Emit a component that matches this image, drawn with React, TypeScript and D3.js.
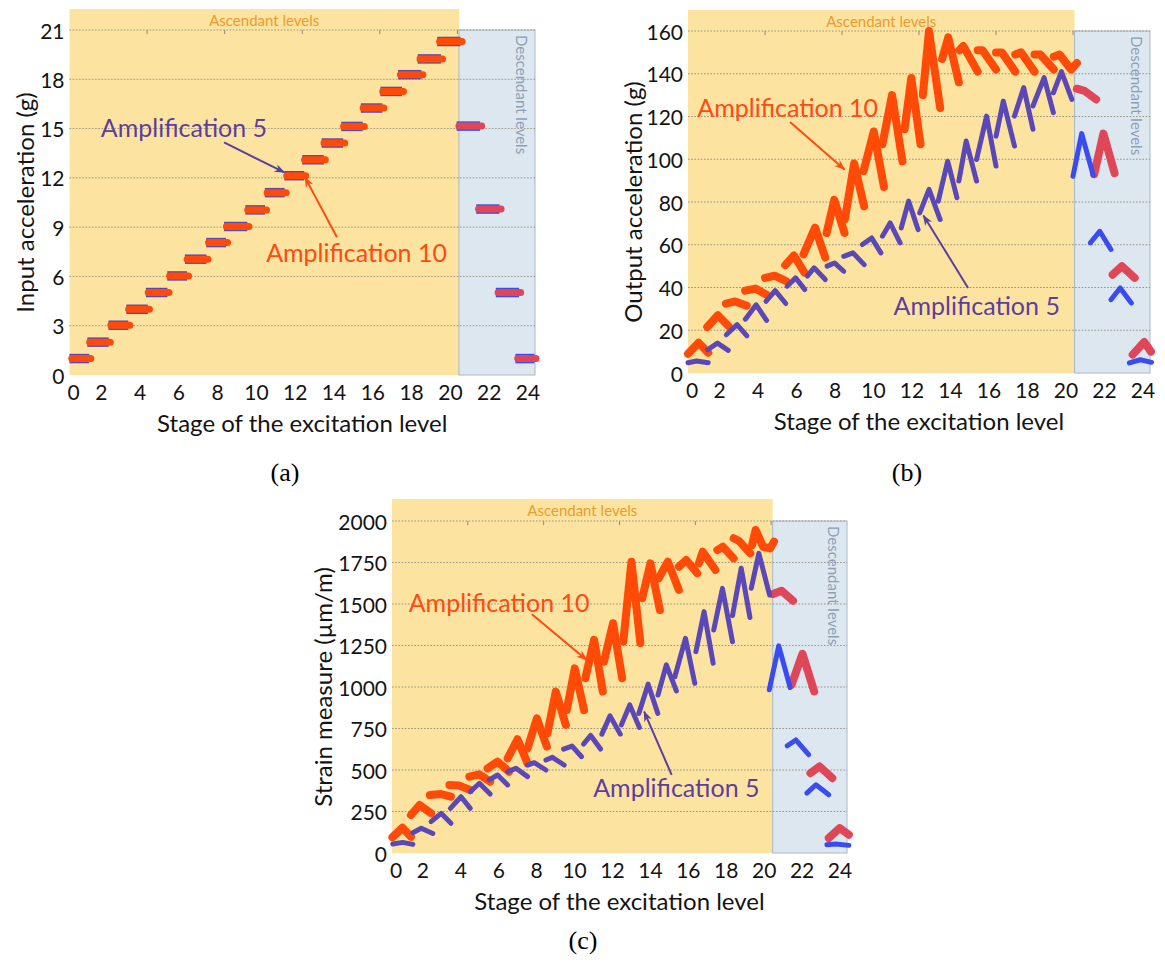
import React from "react";
import * as d3 from "d3";

type Pt = [number, number];

// ---------- shared axis data ----------
const stageTicks = [0, 2, 4, 6, 8, 10, 12, 14, 16, 18, 20, 22, 24];
const topTicks = [4, 8, 12, 16, 20];
const ascendEnd = 20.08;
const stageMax = 24;
const firstDescending = 20; // index of stage 21

// ---------- panel (a): input acceleration ----------
const inputTicks = [0, 3, 6, 9, 12, 15, 18, 21];
const inputLevels = [1.0, 2.0, 3.03, 4.0, 5.02, 6.03, 7.05, 8.06, 9.04, 10.05, 11.1, 12.13, 13.1, 14.12, 15.13, 16.25, 17.26, 18.28, 19.24, 20.3, 15.15, 10.1, 5.02, 1.0];
const inputStart = [0.0, 0.92, 2.01, 2.93, 3.94, 5.04, 5.95, 7.05, 7.97, 9.07, 10.07, 11.08, 12.0, 13.0, 14.01, 15.02, 16.03, 16.94, 17.95, 18.96, 19.96, 20.97, 21.98, 22.99];
const inputEnd = [1.1, 2.1, 3.11, 4.12, 5.13, 6.14, 7.14, 8.15, 9.25, 10.16, 11.17, 12.18, 13.19, 14.19, 15.2, 16.21, 17.22, 18.22, 19.23, 20.24, 21.25, 22.25, 23.26, 24.05];

// ---------- panel (b): output acceleration ----------
const outputTicks = [0, 20, 40, 60, 80, 100, 120, 140, 160];
const outputAmp10: Pt[][] = [
  [[0, 9], [0.55, 14.2], [1.05, 9.5]],
  [[1.0, 21.5], [1.55, 27], [2.1, 22]],
  [[1.97, 32.5], [2.45, 33.5], [3.05, 31.5]],
  [[2.97, 38.5], [3.5, 39.5], [4.1, 36.5]],
  [[4.0, 44.5], [4.5, 45.5], [5.1, 43]],
  [[5.05, 50.5], [5.5, 55], [6.05, 47]],
  [[6.0, 55.5], [6.6, 68], [7.13, 54]],
  [[7.2, 65.5], [7.6, 81], [8.13, 65.5]],
  [[8.15, 72], [8.63, 98], [9.15, 78]],
  [[9.12, 94.5], [9.65, 113], [10.18, 87]],
  [[10.1, 107], [10.6, 130], [11.14, 99]],
  [[11.25, 114], [11.6, 138], [12.08, 107]],
  [[12.2, 130], [12.52, 160], [13.1, 124]],
  [[13.2, 147], [13.52, 157], [14.07, 136]],
  [[14.1, 151], [14.3, 153], [15.05, 141]],
  [[15.05, 151], [15.3, 151], [16.0, 142]],
  [[16.0, 150], [16.3, 150], [17.0, 141]],
  [[17.0, 149], [17.3, 150], [18.0, 141]],
  [[18.0, 149], [18.3, 149], [19.0, 142]],
  [[19.0, 148], [19.3, 149], [19.9, 142], [20.2, 145]],
  [[20.2, 133], [20.6, 132], [21.2, 128]],
  [[21.1, 93], [21.58, 112], [22.16, 93.5]],
  [[22.06, 46], [22.54, 50], [23.2, 44.5]],
  [[23.1, 8.6], [23.7, 14.5], [24.05, 10]],
];
const outputAmp5: Pt[][] = [
  [[0, 4.8], [0.45, 5.6], [1.05, 4.8]],
  [[1.02, 10.9], [1.53, 14], [2.09, 10.6]],
  [[1.99, 17.9], [2.55, 22.6], [3.06, 17.4]],
  [[2.98, 25.2], [3.54, 31.9], [4.08, 24.6]],
  [[4.05, 33.5], [4.53, 38.5], [5.08, 32.5]],
  [[5.15, 40.6], [5.59, 44.5], [6.07, 39]],
  [[6.2, 45.3], [6.55, 49.2], [7.13, 43.7]],
  [[7.23, 50], [7.61, 51.5], [8.09, 47.6]],
  [[8.09, 54.6], [8.57, 56.2], [9.15, 50.7]],
  [[9.06, 60.1], [9.54, 63.2], [10.02, 56.2]],
  [[10.1, 64], [10.5, 70.2], [11.02, 60.9]],
  [[11.08, 67.9], [11.46, 80.4], [11.95, 67.1]],
  [[12.04, 74.9], [12.52, 85.9], [13.1, 71.8]],
  [[13.0, 80.4], [13.49, 99.1], [13.97, 82]],
  [[14.07, 89.8], [14.45, 108.5], [14.99, 89.8]],
  [[14.99, 99.9], [15.51, 120.2], [16.0, 96.8]],
  [[16.0, 110.8], [16.38, 127.2], [16.96, 106.2]],
  [[16.96, 120.2], [17.44, 133.5], [17.92, 114]],
  [[17.92, 124.9], [18.5, 138.2], [18.98, 121.8]],
  [[18.98, 131.1], [19.4, 141], [19.94, 128]],
  [[20.0, 92], [20.45, 112], [21.05, 92.5]],
  [[20.9, 60.9], [21.39, 66.3], [21.97, 57.8]],
  [[21.97, 34.3], [22.45, 39.8], [23.03, 32.8]],
  [[22.93, 4.7], [23.5, 6.2], [24.08, 5]],
];

// ---------- panel (c): strain ----------
const strainTicks = [0, 250, 500, 750, 1000, 1250, 1500, 1750, 2000];
const strainAmp10: Pt[][] = [
  [[0.02, 95], [0.55, 152], [1.0, 98]],
  [[1.0, 229], [1.45, 289], [2.06, 239]],
  [[2.0, 349], [2.59, 355], [3.11, 339]],
  [[3.03, 410], [3.55, 406], [4.13, 380]],
  [[4.08, 460], [4.6, 474], [5.18, 430]],
  [[5.04, 510], [5.57, 550], [6.18, 490]],
  [[6.1, 570], [6.62, 685], [7.15, 540]],
  [[7.15, 630], [7.64, 811], [8.17, 641]],
  [[8.2, 721], [8.64, 972], [9.17, 771]],
  [[9.22, 861], [9.64, 1112], [10.13, 861]],
  [[10.2, 1053], [10.66, 1284], [11.12, 973]],
  [[11.18, 1153], [11.66, 1384], [12.14, 1053]],
  [[12.2, 1274], [12.63, 1755], [13.1, 1264]],
  [[13.2, 1535], [13.63, 1745], [14.13, 1464]],
  [[14.07, 1655], [14.55, 1755], [15.13, 1585]],
  [[15.13, 1725], [15.52, 1765], [16.1, 1685]],
  [[16.19, 1745], [16.39, 1815], [17.06, 1705]],
  [[17.16, 1825], [17.45, 1845], [18.02, 1775]],
  [[18.02, 1896], [18.3, 1880], [18.9, 1805]],
  [[18.99, 1855], [19.18, 1946], [19.57, 1845], [19.95, 1835], [20.15, 1876]],
  [[20.1, 1560], [20.55, 1580], [21.15, 1520]],
  [[21.07, 1013], [21.65, 1200], [22.27, 973]],
  [[22.07, 481], [22.55, 522], [23.23, 451]],
  [[23.04, 90], [23.61, 150], [24.1, 110]],
];
const strainAmp5: Pt[][] = [
  [[0.04, 54], [0.57, 64], [1.1, 52]],
  [[1.1, 122], [1.54, 149], [2.15, 118]],
  [[2.06, 189], [2.59, 239], [3.11, 179]],
  [[3.08, 269], [3.64, 339], [4.13, 269]],
  [[4.13, 369], [4.61, 420], [5.18, 355]],
  [[5.13, 440], [5.57, 470], [6.1, 410]],
  [[6.1, 490], [6.54, 510], [7.15, 460]],
  [[7.15, 530], [7.5, 544], [8.12, 500]],
  [[8.12, 560], [8.46, 576], [9.08, 530]],
  [[9.05, 626], [9.5, 644], [10.0, 580]],
  [[10.1, 656], [10.48, 708], [11.0, 626]],
  [[11.07, 716], [11.5, 826], [12.04, 716]],
  [[12.1, 772], [12.54, 892], [13.05, 756]],
  [[13.02, 841], [13.51, 1017], [14.02, 841]],
  [[14.03, 952], [14.47, 1133], [15.0, 977]],
  [[14.92, 1062], [15.48, 1293], [15.97, 1022]],
  [[16.03, 1213], [16.46, 1454], [16.94, 1143]],
  [[16.97, 1343], [17.43, 1594], [17.96, 1273]],
  [[17.96, 1430], [18.42, 1715], [18.88, 1419]],
  [[18.95, 1595], [19.35, 1805], [19.85, 1584], [19.92, 1554]],
  [[19.9, 983], [20.4, 1248], [21.0, 997]],
  [[20.85, 646], [21.3, 681], [21.98, 592]],
  [[21.88, 361], [22.36, 411], [23.04, 351]],
  [[22.94, 50], [23.42, 54], [24.1, 46]],
];

// ---------- annotations (data coords) ----------
type Note = { text: string; tx: number; ty: number; from: Pt; to: Pt; kind: "a5" | "a10" };
const inputNotes: Note[] = [
  { text: "Amplification 5", tx: 5.9, ty: 15.1, from: [7.97, 14.16], to: [11.08, 12.33], kind: "a5" },
  { text: "Amplification 10", tx: 14.8, ty: 7.5, from: [13.79, 8.38], to: [12.14, 12.03], kind: "a10" },
];
const outputNotes: Note[] = [
  { text: "Amplification 10", tx: 5.18, ty: 124.6, from: [5.3, 117.4], to: [8.13, 95.2], kind: "a10" },
  { text: "Amplification 5", tx: 15.0, ty: 32, from: [14.55, 39.8], to: [12.23, 73.7], kind: "a5" },
];
const strainNotes: Note[] = [
  { text: "Amplification 10", tx: 5.65, ty: 1514, from: [7.38, 1438], to: [10.27, 1163], kind: "a10" },
  { text: "Amplification 5", tx: 15.0, ty: 397, from: [14.75, 471], to: [13.3, 852], kind: "a5" },
];

// ---------- styles ----------
const FONT = "Lato, 'Open Sans', sans-serif";
const C = {
  yellow: "#FCE4A0",
  blueBg: "#DDE7F0",
  blueEdge: "#A8B6C4",
  grid: "#9A9686",
  red: "#FF4A08",
  redDesc: "#DF4658",
  purple: "#5A48B8",
  blue: "#3A4CF0",
  noteA5: "#5B3F9E",
  noteA10: "#FF4A12",
  ascText: "#EE9A2E",
  descText: "#8E9FB4",
  text: "#141414",
};

type Spec = {
  id: string;
  left: number; right: number; top: number; bottom: number; yellowTop: number;
  yMax: number; yTicks: number[]; yTitle: string; yTitleX: number;
  amp10: Pt[][]; amp5: Pt[][]; bars: boolean;
  notes: Note[];
  label: string; labelX: number; labelY: number;
};

const inputBars10: Pt[][] = inputLevels.map((v, i) => [[inputStart[i] + 0.12, v], [inputEnd[i], v]]);
const inputBars5: Pt[][] = inputLevels.map((v, i) => [[inputStart[i], v], [inputEnd[i] - 0.08, v]]);

const specs: Spec[] = [
  {
    id: "a", left: 69.5, right: 535, top: 30, bottom: 375, yellowTop: 9,
    yMax: 21, yTicks: inputTicks, yTitle: "Input acceleration (g)", yTitleX: 24,
    amp10: inputBars10, amp5: inputBars5, bars: true, notes: inputNotes,
    label: "(a)", labelX: 285, labelY: 472,
  },
  {
    id: "b", left: 688, right: 1150, top: 31, bottom: 373, yellowTop: 10,
    yMax: 160, yTicks: outputTicks, yTitle: "Output acceleration (g)", yTitleX: 632,
    amp10: outputAmp10, amp5: outputAmp5, bars: false, notes: outputNotes,
    label: "(b)", labelX: 907, labelY: 472,
  },
  {
    id: "c", left: 392, right: 847, top: 521, bottom: 853, yellowTop: 499,
    yMax: 2000, yTicks: strainTicks, yTitle: "Strain measure (\u00b5m/m)", yTitleX: 322,
    amp10: strainAmp10, amp5: strainAmp5, bars: false, notes: strainNotes,
    label: "(c)", labelX: 583, labelY: 940,
  },
];

function Panel({ s }: { s: Spec }) {
  const xs = d3.scaleLinear().domain([0, stageMax]).range([s.left, s.right]);
  const ys = d3.scaleLinear().domain([0, s.yMax]).range([s.bottom, s.top]);
  const line = d3.line<Pt>().x((d) => xs(d[0])).y((d) => ys(d[1]));
  const midY = (s.top + s.bottom) / 2;

  const seg10 = s.amp10.map((seg, i) => (
    <path key={"r" + i} d={line(seg) || ""} fill="none"
      stroke={i >= firstDescending ? C.redDesc : C.red}
      strokeWidth={s.bars ? 7 : 8} strokeLinecap="round" strokeLinejoin="round" />
  ));
  const seg5 = s.amp5.map((seg, i) => (
    <path key={"b" + i} d={line(seg) || ""} fill="none"
      stroke={i >= firstDescending ? C.blue : C.purple}
      strokeWidth={s.bars ? 9.5 : 5} strokeLinecap={s.bars ? "butt" : "round"} strokeLinejoin="round" />
  ));

  return (
    <g>
      <defs>
        {(["a5", "a10"] as const).map((k) => (
          <marker key={k} id={`arrow-${s.id}-${k}`} viewBox="0 0 12 10" refX="11" refY="5"
            markerWidth="13" markerHeight="9" markerUnits="userSpaceOnUse" orient="auto">
            <path d="M0,0.5 L12,5 L0,9.5 L3.5,5 Z" fill={k === "a5" ? C.noteA5 : C.noteA10} />
          </marker>
        ))}
      </defs>
      <rect x={xs(0)} y={s.yellowTop} width={xs(ascendEnd) - xs(0)} height={s.bottom - s.yellowTop} fill={C.yellow} />
      <rect x={xs(ascendEnd)} y={s.top} width={xs(stageMax) - xs(ascendEnd)} height={s.bottom - s.top}
        fill={C.blueBg} stroke={C.blueEdge} strokeWidth={1} />
      {s.yTicks.filter((t) => t > 0).map((t) => (
        <line key={"g" + t} x1={xs(0)} x2={xs(stageMax)} y1={ys(t)} y2={ys(t)}
          stroke={C.grid} strokeWidth={1} strokeDasharray="1.6,1.6" />
      ))}
      {topTicks.map((t) => (
        <line key={"tt" + t} x1={xs(t)} x2={xs(t)} y1={s.top} y2={s.top + 4} stroke="#8f8a78" strokeWidth={1} />
      ))}
      <text x={xs(ascendEnd / 2)} y={(s.yellowTop + s.top) / 2} fontFamily={FONT} fontSize={15}
        fill={C.ascText} textAnchor="middle" dominantBaseline="central">Ascendant levels</text>
      <text transform={`translate(${xs(23.3)},${s.top + 5}) rotate(90)`} fontFamily={FONT} fontSize={15}
        fill={C.descText} textAnchor="start" dy="0.35em">Descendant levels</text>

      {s.bars ? (<>{seg5}{seg10}</>) : (<>{seg10}{seg5}</>)}

      {s.yTicks.map((t) => (
        <text key={"yl" + t} x={s.left - 5} y={ys(t)} fontFamily={FONT} fontSize={21} fill={C.text}
          textAnchor="end" dominantBaseline="central">{t}</text>
      ))}
      {stageTicks.map((t) => (
        <text key={"xl" + t} x={xs(t) + (t === 0 ? 4 : -7)} y={s.bottom + 16} fontFamily={FONT} fontSize={21}
          fill={C.text} textAnchor="middle" dominantBaseline="central">{t}</text>
      ))}
      <text x={(s.left + s.right) / 2} y={s.bottom + 47} fontFamily={FONT} fontSize={24} fill={C.text}
        textAnchor="middle" dominantBaseline="central">Stage of the excitation level</text>
      <text transform={`translate(${s.yTitleX},${midY}) rotate(-90)`} fontFamily={FONT} fontSize={24}
        fill={C.text} textAnchor="middle" dominantBaseline="central">{s.yTitle}</text>

      {s.notes.map((n, i) => (
        <g key={"n" + i}>
          <line x1={xs(n.from[0])} y1={ys(n.from[1])} x2={xs(n.to[0])} y2={ys(n.to[1])}
            stroke={n.kind === "a5" ? C.noteA5 : C.noteA10} strokeWidth={2}
            markerEnd={`url(#arrow-${s.id}-${n.kind})`} />
          <text x={xs(n.tx)} y={ys(n.ty)} fontFamily={FONT} fontSize={25}
            fill={n.kind === "a5" ? C.noteA5 : C.noteA10} textAnchor="middle" dominantBaseline="central">{n.text}</text>
        </g>
      ))}

      <text x={s.labelX} y={s.labelY} fontFamily="'Liberation Serif', 'Times New Roman', serif" fontSize={26}
        fill="#000" textAnchor="middle" dominantBaseline="central">{s.label}</text>
    </g>
  );
}

export default function App() {
  return (
    <div style={{ position: "absolute", left: 0, top: 0 }}>
      <svg width={1165} height={964} viewBox="0 0 1165 964" style={{ display: "block", background: "#fff" }}>
        {specs.map((s) => <Panel key={s.id} s={s} />)}
      </svg>
    </div>
  );
}
